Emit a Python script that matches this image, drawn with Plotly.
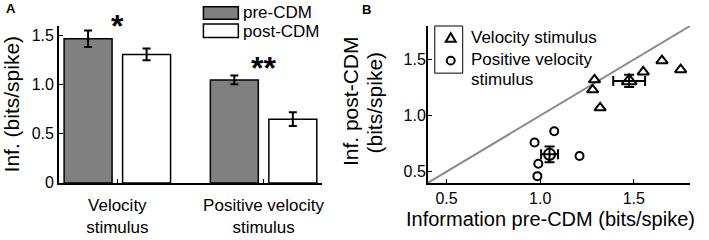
import plotly.graph_objects as go

# ---------------- data ----------------
categories = ["Velocity<br>stimulus", "Positive velocity<br>stimulus"]
cat_pos = [1, 2]
pre_mean = [1.47, 1.05]
pre_err = [0.085, 0.045]
post_mean = [1.31, 0.65]
post_err = [0.06, 0.07]
sig_labels = ["*", "**"]

vel_pre = [1.29, 1.28, 1.32, 1.55, 1.65, 1.75]
vel_post = [1.32, 1.23, 1.07, 1.39, 1.49, 1.41]
pos_pre = [1.075, 0.97, 1.21, 0.99, 0.985]
pos_post = [0.86, 0.76, 0.64, 0.57, 0.46]

vel_mean_x, vel_mean_xerr = [1.475], [0.085]
vel_mean_y, vel_mean_yerr = [1.31], [0.055]
pos_mean_x, pos_mean_xerr = [1.05], [0.045]
pos_mean_y, pos_mean_yerr = [0.655], [0.07]

unity = [0.4, 1.8]

a_yticks = [0, 0.5, 1.0, 1.5]
a_yticktext = ["0", "0.5", "1.0", "1.5"]
b_ticks = [0.5, 1.0, 1.5]
b_ticktext = ["0.5", "1.0", "1.5"]

# ---------------- figure ----------------
W, H = 709, 240
FONT = "Liberation Sans, Arial, sans-serif"


def px(x):
    return x / W


def py(y):
    return 1 - y / H


fig = go.Figure()

fig.add_trace(go.Bar(
    x=cat_pos, y=pre_mean, name="pre-CDM",
    marker=dict(color="#808080", line=dict(color="black", width=1.5)),
    error_y=dict(type="data", array=pre_err, color="black", thickness=2, width=4),
    xaxis="x", yaxis="y", showlegend=False))
fig.add_trace(go.Bar(
    x=cat_pos, y=post_mean, name="post-CDM",
    marker=dict(color="white", line=dict(color="black", width=1.5)),
    error_y=dict(type="data", array=post_err, color="black", thickness=2, width=4),
    xaxis="x", yaxis="y", showlegend=False))

# panel B
fig.add_trace(go.Scatter(
    x=unity, y=unity, mode="lines", line=dict(color="#8a8a8a", width=2),
    xaxis="x2", yaxis="y2", showlegend=False, hoverinfo="skip"))
fig.add_trace(go.Scatter(
    x=vel_pre, y=vel_post, mode="markers", name="Velocity stimulus",
    marker=dict(symbol="triangle-up-open", size=10, color="black", line=dict(width=2)),
    xaxis="x2", yaxis="y2", showlegend=False))
fig.add_trace(go.Scatter(
    x=pos_pre, y=pos_post, mode="markers", name="Positive velocity stimulus",
    marker=dict(symbol="circle-open", size=8, color="black", line=dict(width=2)),
    xaxis="x2", yaxis="y2", showlegend=False))
fig.add_trace(go.Scatter(
    x=vel_mean_x, y=vel_mean_y, mode="markers",
    marker=dict(symbol="triangle-up-open", size=13, color="black", line=dict(width=2)),
    error_x=dict(type="data", array=vel_mean_xerr, color="black", thickness=2, width=5),
    error_y=dict(type="data", array=vel_mean_yerr, color="black", thickness=2, width=5),
    xaxis="x2", yaxis="y2", showlegend=False))
fig.add_trace(go.Scatter(
    x=pos_mean_x, y=pos_mean_y, mode="markers",
    marker=dict(symbol="circle-open", size=11, color="black", line=dict(width=2)),
    error_x=dict(type="data", array=pos_mean_xerr, color="black", thickness=2, width=5),
    error_y=dict(type="data", array=pos_mean_yerr, color="black", thickness=2, width=5),
    xaxis="x2", yaxis="y2", showlegend=False))

axis_common = dict(showline=True, linecolor="black", linewidth=1.5, ticks="inside",
                   ticklen=4, tickwidth=1, tickcolor="black", showgrid=False,
                   zeroline=False, mirror=False)
tf16 = dict(family=FONT, size=16, color="black")
tf17 = dict(family=FONT, size=17, color="black")

fig.update_layout(
    width=W, height=H, margin=dict(l=0, r=0, t=0, b=0),
    paper_bgcolor="white", plot_bgcolor="white",
    barmode="group", bargap=0.2, bargroupgap=0.18,
    font=dict(family=FONT, color="black"),
    xaxis=dict(domain=[px(59), px(323)], range=[0.6, 2.4], tickvals=cat_pos,
               ticktext=categories, anchor="y", tickfont=tf17,
               ticklabelstandoff=6, **axis_common),
    yaxis=dict(domain=[py(190), py(27)], range=[0, 1.6], tickvals=a_yticks,
               ticktext=a_yticktext, anchor="x", tickfont=tf16, **axis_common),
    xaxis2=dict(domain=[px(429), px(692)], range=[0.4, 1.8], tickvals=b_ticks,
                ticktext=b_ticktext, anchor="y2", tickfont=tf16, **axis_common),
    yaxis2=dict(domain=[py(190), py(27)], range=[0.4, 1.8], tickvals=b_ticks,
                ticktext=b_ticktext, anchor="x2", tickfont=tf16,
                ticklabelstandoff=-3, **axis_common),
)

ann = []
# panel letters
ann.append(dict(x=px(11), y=py(9), text="<b>A</b>", font=dict(size=13)))
ann.append(dict(x=px(368), y=py(10), text="<b>B</b>", font=dict(size=13)))
# axis titles
ann.append(dict(x=px(11), y=py(107.5), text="Inf. (bits/spike)", textangle=-90,
                font=dict(size=21)))
ann.append(dict(x=px(351), y=py(105), text="Inf. post-CDM", textangle=-90,
                font=dict(size=21)))
ann.append(dict(x=px(375.5), y=py(106), text="(bits/spike)", textangle=-90,
                font=dict(size=21)))
ann.append(dict(x=px(552), y=py(228), text="Information pre-CDM (bits/spike)",
                font=dict(size=20)))
# significance stars
ann.append(dict(x=cat_pos[0], xref="x", y=py(27), text="<b>" + sig_labels[0] + "</b>",
                font=dict(size=32)))
ann.append(dict(x=cat_pos[1], xref="x", y=py(71), text="<b>" + sig_labels[1] + "</b>",
                font=dict(size=32)))
# legend A texts
ann.append(dict(x=px(242), y=py(13), text="pre-CDM", xanchor="left", font=dict(size=17)))
ann.append(dict(x=px(242), y=py(32.5), text="post-CDM", xanchor="left", font=dict(size=17)))
# legend B texts
ann.append(dict(x=px(470), y=py(39), text="Velocity stimulus", xanchor="left", font=dict(size=17)))
ann.append(dict(x=px(470), y=py(62), text="Positive velocity", xanchor="left", font=dict(size=17)))
ann.append(dict(x=px(470), y=py(83), text="stimulus", xanchor="left", font=dict(size=17)))

for a in ann:
    a.setdefault("xref", "paper")
    a.setdefault("yref", "paper")
    a.setdefault("showarrow", False)
    a.setdefault("xanchor", "center")
    a.setdefault("yanchor", "middle")
    a["font"] = dict(family=FONT, color="black", **a["font"])
fig.update_layout(annotations=ann)

shapes = []
# legend A patches
shapes.append(dict(type="rect", xref="paper", yref="paper", x0=px(204), x1=px(239),
                   y0=py(20), y1=py(7), fillcolor="#808080",
                   line=dict(color="black", width=1.5)))
shapes.append(dict(type="rect", xref="paper", yref="paper", x0=px(204), x1=px(239),
                   y0=py(39), y1=py(25), fillcolor="white",
                   line=dict(color="black", width=1.5)))
# legend B box and markers
shapes.append(dict(type="rect", xref="paper", yref="paper", x0=px(436), x1=px(464),
                   y0=py(76), y1=py(27), fillcolor="rgba(0,0,0,0)",
                   line=dict(color="black", width=1)))
tri = "M {:.5f},{:.5f} L {:.5f},{:.5f} L {:.5f},{:.5f} Z".format(
    px(447), py(43.5), px(457), py(43.5), px(452), py(34.5))
shapes.append(dict(type="path", xref="paper", yref="paper", path=tri,
                   line=dict(color="black", width=2)))
shapes.append(dict(type="circle", xref="paper", yref="paper", x0=px(448), x1=px(456),
                   y0=py(67), y1=py(59), line=dict(color="black", width=2)))
fig.update_layout(shapes=shapes)

fig.write_html("out.html", config={"displayModeBar": False},
               post_script="document.body.style.margin='0px';")
